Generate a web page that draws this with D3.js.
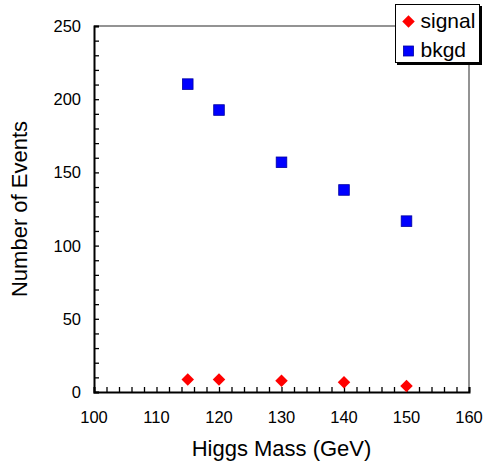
<!DOCTYPE html>
<html>
<head>
<meta charset="UTF-8" />
<script src="https://cdnjs.cloudflare.com/ajax/libs/d3/7.8.5/d3.min.js"></script>
<style>
  body { margin: 0; background: #fff; }
  text { font-family: "Liberation Sans", Arial, sans-serif; fill: #000; }
</style>
</head>
<body>
<div class="chart"></div>
<script>
// data
const masses = [115, 120, 130, 140, 150]
const signal = [8.6, 8.6, 7.7, 6.7, 4.1]
const bkgd = [210.3, 192.6, 156.9, 138, 116.7]
const xTicks = [100, 110, 120, 130, 140, 150, 160]
const yTicks = [0, 50, 100, 150, 200, 250]

const width = 483, height = 464
const m = { left: 94, right: 14, top: 26, bottom: 72 }

const svg = d3.select('.chart').append('svg')
  .attr('width', width).attr('height', height)

const x = d3.scaleLinear().domain([100, 160]).range([m.left, width - m.right])
const y = d3.scaleLinear().domain([0, 250]).range([height - m.bottom, m.top])

// top / right frame (grey)
svg.append('path')
  .attr('d', `M${x(100)},${y(250)}H${x(160)}V${y(0)}`)
  .attr('fill', 'none').attr('stroke', '#707070').attr('stroke-width', 1.5)

// minor + major ticks pointing inward
const xAxis = d3.axisBottom(x).tickValues(d3.range(100, 161, 2)).tickSize(-5).tickFormat('')
const yAxis = d3.axisLeft(y).tickValues(d3.range(0, 251, 10)).tickSize(-5).tickFormat('')

const gx = svg.append('g').attr('transform', `translate(0,${y(0)})`).call(xAxis)
const gy = svg.append('g').attr('transform', `translate(${x(100)},0)`).call(yAxis)
gx.select('.domain').attr('stroke-width', 2)
gy.select('.domain').attr('stroke-width', 2)
svg.selectAll('.tick line').attr('stroke', '#000').attr('stroke-width', 1.3)

// tick labels
svg.append('g').selectAll('text').data(xTicks).join('text')
  .attr('x', d => x(d)).attr('y', y(0) + 31)
  .attr('text-anchor', 'middle').attr('font-size', 16.5)
  .text(d => d)
svg.append('g').selectAll('text').data(yTicks).join('text')
  .attr('x', x(100) - 13).attr('y', d => y(d) + 6)
  .attr('text-anchor', 'end').attr('font-size', 16.5)
  .text(d => d)

// axis titles
svg.append('text')
  .attr('x', (x(100) + x(160)) / 2).attr('y', 456)
  .attr('text-anchor', 'middle').attr('font-size', 22)
  .text('Higgs Mass (GeV)')
svg.append('text')
  .attr('transform', `translate(27,${(y(0) + y(250)) / 2}) rotate(-90)`)
  .attr('text-anchor', 'middle').attr('font-size', 22)
  .text('Number of Events')

// markers
const diamond = d3.symbol().type(d3.symbolSquare).size(78)
svg.append('g').selectAll('path').data(masses).join('path')
  .attr('transform', (d, i) => `translate(${x(d)},${y(signal[i])}) rotate(45)`)
  .attr('d', diamond).attr('fill', '#ff0000')

svg.append('g').selectAll('rect').data(masses).join('rect')
  .attr('x', d => x(d) - 5.3).attr('y', (d, i) => y(bkgd[i]) - 5.3)
  .attr('width', 10.6).attr('height', 10.6)
  .attr('fill', '#0000ff').attr('stroke', '#0000a0').attr('stroke-width', 0.8)

// legend
const lg = svg.append('g').attr('transform', 'translate(395,4)')
lg.append('rect').attr('x', 2).attr('y', 2).attr('width', 85).attr('height', 59).attr('fill', '#000')
lg.append('rect').attr('x', 0.5).attr('y', 0.5).attr('width', 84).attr('height', 58)
  .attr('fill', '#fff').attr('stroke', '#000').attr('stroke-width', 1)
lg.append('path').attr('transform', 'translate(13.5,17.5) rotate(45)').attr('d', diamond).attr('fill', '#ff0000')
lg.append('text').attr('x', 25.5).attr('y', 23.5).attr('font-size', 21).text('signal')
lg.append('rect').attr('x', 8.5).attr('y', 42).attr('width', 10).attr('height', 10)
  .attr('fill', '#0000ff').attr('stroke', '#0000a0').attr('stroke-width', 0.8)
lg.append('text').attr('x', 25.5).attr('y', 53).attr('font-size', 21).text('bkgd')
</script>
</body>
</html>
